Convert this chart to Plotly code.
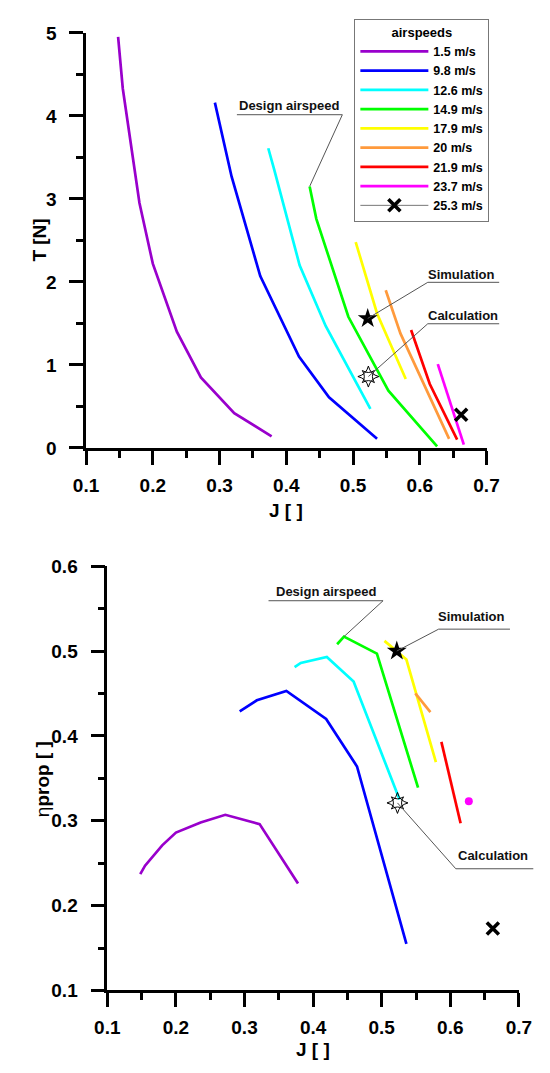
import plotly.graph_objects as go

# ---- data: advance ratio J, thrust T [N] and propeller efficiency per airspeed ----
airspeed_labels = ["1.5 m/s", "9.8 m/s", "12.6 m/s", "14.9 m/s", "17.9 m/s",
                   "20 m/s", "21.9 m/s", "23.7 m/s", "25.3 m/s"]

J_1_5 = [0.148, 0.155, 0.180, 0.200, 0.236, 0.272, 0.322, 0.378]
T_1_5 = [4.95, 4.33, 2.95, 2.22, 1.40, 0.85, 0.42, 0.14]
eta_1_5 = [0.237, 0.247, 0.271, 0.286, 0.298, 0.307, 0.296, 0.226]

J_9_8 = [0.293, 0.318, 0.361, 0.419, 0.464, 0.536]
T_9_8 = [4.16, 3.27, 2.07, 1.10, 0.61, 0.11]
eta_9_8 = [0.429, 0.442, 0.453, 0.420, 0.364, 0.155]

J_12_6 = [0.373, 0.382, 0.420, 0.459, 0.526]
T_12_6 = [3.61, 3.35, 2.20, 1.47, 0.47]
eta_12_6 = [0.481, 0.486, 0.493, 0.464, 0.325]

J_14_9 = [0.435, 0.445, 0.493, 0.553, 0.626]
T_14_9 = [3.15, 2.76, 1.58, 0.69, 0.02]
eta_14_9 = [0.508, 0.517, 0.497, 0.339, None]

J_17_9 = [0.504, 0.536, 0.579]
T_17_9 = [2.48, 1.62, 0.83]
eta_17_9 = [0.512, 0.490, 0.369]

J_20 = [0.549, 0.571, 0.644]
T_20 = [1.90, 1.38, 0.11]
eta_20 = [0.450, 0.428, None]

J_21_9 = [0.587, 0.615, 0.656]
T_21_9 = [1.42, 0.77, 0.10]
eta_21_9 = [0.393, 0.297, None]

J_23_7 = [0.627, 0.666]
T_23_7 = [1.01, 0.04]
eta_23_7 = [0.323, None]

J_25_3 = [0.662]
T_25_3 = [0.40]
eta_25_3 = [0.173]

# design-point check values
sim_J, sim_T, sim_eta = [0.522], [1.56], [0.500]
calc_J, calc_T, calc_eta = [0.523], [0.86], [0.321]

# ---- styling ----
FONT = "Liberation Sans, Arial, sans-serif"
colors = ["#9900CC", "#0000FF", "#00FFFF", "#00FF00", "#FFFF00",
          "#FF9A3C", "#FF0000", "#FF00FF"]
curves_J = [J_1_5, J_9_8, J_12_6, J_14_9, J_17_9, J_20, J_21_9, J_23_7]
curves_T = [T_1_5, T_9_8, T_12_6, T_14_9, T_17_9, T_20, T_21_9, T_23_7]
curves_eta = [eta_1_5, eta_9_8, eta_12_6, eta_14_9, eta_17_9, eta_20, eta_21_9, eta_23_7]

W, H = 550, 1073
top_x_dom = [76.7 / W, 497.0 / W]
top_y_dom = [1 - 446.7 / H, 1 - 23.3 / H]
bot_x_dom = [99.0 / W, 531.0 / W]
bot_y_dom = [1 - 1000.0 / H, 1 - 567.3 / H]
x_range = [0.1, 0.7]
top_y_range = [0, 5]
bot_y_range = [0.1, 0.6]

fig = go.Figure()

LW = 2.7
for i, (jx, ty, ey) in enumerate(zip(curves_J, curves_T, curves_eta)):
    fig.add_trace(go.Scatter(x=jx, y=ty, mode="lines", name=airspeed_labels[i],
                             line=dict(color=colors[i], width=LW),
                             xaxis="x", yaxis="y", legendgroup=str(i)))
    n_valid = sum(v is not None for v in ey)
    mode = "lines" if n_valid > 1 else "markers"
    fig.add_trace(go.Scatter(x=jx, y=ey, mode=mode, showlegend=False,
                             line=dict(color=colors[i], width=LW),
                             marker=dict(color=colors[i], size=8),
                             xaxis="x2", yaxis="y2", legendgroup=str(i)))

xmark = dict(symbol="x-thin", size=12, color="black",
             line=dict(width=3.6, color="black"))
fig.add_trace(go.Scatter(x=J_25_3, y=T_25_3, mode="lines+markers",
                         name=airspeed_labels[8], marker=xmark,
                         line=dict(color="#777777", width=1),
                         xaxis="x", yaxis="y"))
fig.add_trace(go.Scatter(x=J_25_3, y=eta_25_3, mode="markers", showlegend=False,
                         marker=xmark, xaxis="x2", yaxis="y2"))

# simulation (filled star) and calculation (open burst) points
for ax, yv_sim, yv_calc in (("", sim_T, calc_T), ("2", sim_eta, calc_eta)):
    fig.add_trace(go.Scatter(x=sim_J, y=yv_sim, mode="markers", showlegend=False,
                             marker=dict(symbol="star", size=15, color="black",
                                         line=dict(width=0)),
                             xaxis="x" + ax, yaxis="y" + ax))
    for sym, sz in (("star-diamond-open", 15), ("star-square-open", 11)):
        fig.add_trace(go.Scatter(x=calc_J, y=yv_calc, mode="markers", showlegend=False,
                                 marker=dict(symbol=sym, size=sz, color="black",
                                             line=dict(width=1, color="black")),
                                 xaxis="x" + ax, yaxis="y" + ax))


def to_paper(xv, yv, top):
    """Map data coordinates of one panel onto paper coordinates."""
    xd = top_x_dom if top else bot_x_dom
    yd = top_y_dom if top else bot_y_dom
    yr = top_y_range if top else bot_y_range
    px = xd[0] + (xv - x_range[0]) / (x_range[1] - x_range[0]) * (xd[1] - xd[0])
    py = yd[0] + (yv - yr[0]) / (yr[1] - yr[0]) * (yd[1] - yd[0])
    return px, py


shapes = []
annotations = []
callout = dict(color="#555555", width=1)


def add_callout(text, x0, x1, y_line, text_x, text_y, target, top, from_right):
    """Underlined label with a leader line running to a target point."""
    ux0, uy = to_paper(x0, y_line, top)
    ux1, _ = to_paper(x1, y_line, top)
    shapes.append(dict(type="line", xref="paper", yref="paper",
                       x0=ux0, x1=ux1, y0=uy, y1=uy, line=callout))
    sx = ux1 if from_right else ux0
    tx, ty = to_paper(target[0], target[1], top)
    shapes.append(dict(type="line", xref="paper", yref="paper",
                       x0=sx, x1=tx, y0=uy, y1=ty, line=callout))
    px, py = to_paper(text_x, text_y, top)
    annotations.append(dict(text=text, xref="paper", yref="paper", x=px, y=py,
                            xanchor="center", yanchor="middle", showarrow=False,
                            font=dict(family=FONT, size=13, color="#111111",
                                      weight="bold")))


# top panel call-outs
add_callout("Design airspeed", 0.326, 0.484, 4.014, 0.404, 4.12,
            (J_14_9[0], T_14_9[0]), True, True)
add_callout("Simulation", 0.612, 0.719, 1.995, 0.662, 2.09,
            (sim_J[0], sim_T[0]), True, False)
add_callout("Calculation", 0.612, 0.719, 1.496, 0.665, 1.59,
            (calc_J[0], calc_T[0]), True, False)
# bottom panel call-outs
add_callout("Design airspeed", 0.335, 0.502, 0.5593, 0.4185, 0.5705,
            (J_14_9[1], eta_14_9[1]), False, True)
add_callout("Simulation", 0.583, 0.687, 0.5258, 0.631, 0.5405,
            (sim_J[0], sim_eta[0]), False, False)
add_callout("Calculation", 0.608, 0.721, 0.2434, 0.662, 0.2585,
            (calc_J[0], calc_eta[0]), False, False)

# axis titles
title_font = dict(family=FONT, size=19, color="black", weight="bold")
annotations += [
    dict(text="T [N]", xref="paper", yref="paper", x=27.5 / W, y=1 - 235 / H,
         textangle=-90, showarrow=False, font=title_font,
         xanchor="center", yanchor="middle"),
    dict(text="J [ ]", xref="paper", yref="paper", x=287 / W, y=1 - 510 / H,
         showarrow=False, font=title_font, xanchor="center", yanchor="middle"),
    dict(text="J [ ]", xref="paper", yref="paper", x=315 / W, y=1 - 1060 / H,
         showarrow=False, font=title_font, xanchor="center", yanchor="middle"),
    dict(text="η<b>prop [ ]</b>", xref="paper", yref="paper", x=31 / W,
         y=1 - 785 / H, textangle=-90, showarrow=False,
         font=dict(family=FONT, size=19, color="black"),
         xanchor="center", yanchor="middle"),
]

tick_font = dict(family=FONT, size=19, color="black", weight=700)


def axis(dom, rng, dtick, minor_dtick, anchor, standoff):
    return dict(domain=dom, range=rng, dtick=dtick, tick0=rng[0], anchor=anchor,
                showline=True, linecolor="black", linewidth=2.6,
                ticks="outside", ticklen=14, tickwidth=2.6, tickcolor="black",
                minor=dict(dtick=minor_dtick, ticks="outside", ticklen=7,
                           tickwidth=2.6, tickcolor="black"),
                showgrid=False, zeroline=False, tickfont=tick_font,
                ticklabelstandoff=standoff, fixedrange=True)


fig.update_layout(
    width=W, height=H,
    margin=dict(l=0, r=0, t=0, b=0),
    paper_bgcolor="white", plot_bgcolor="white",
    xaxis=axis(top_x_dom, x_range, 0.1, 0.05, "y", 4),
    yaxis=axis(top_y_dom, top_y_range, 1, 0.5, "x", 9),
    xaxis2=axis(bot_x_dom, x_range, 0.1, 0.05, "y2", 4),
    yaxis2=axis(bot_y_dom, bot_y_range, 0.1, 0.05, "x2", 9),
    shapes=shapes,
    annotations=annotations,
    showlegend=True,
    legend=dict(x=358.3 / W, y=1 - 9 / H, xanchor="left", yanchor="top",
                bgcolor="white", bordercolor="#777777", borderwidth=1,
                font=dict(family=FONT, size=12.5, color="black", weight="bold"),
                title=dict(text="airspeeds", side="top center",
                           font=dict(family=FONT, size=13, color="black",
                                     weight="bold")),
                itemwidth=68, tracegroupgap=0, itemclick=False),
)

fig.write_html("out.html")
